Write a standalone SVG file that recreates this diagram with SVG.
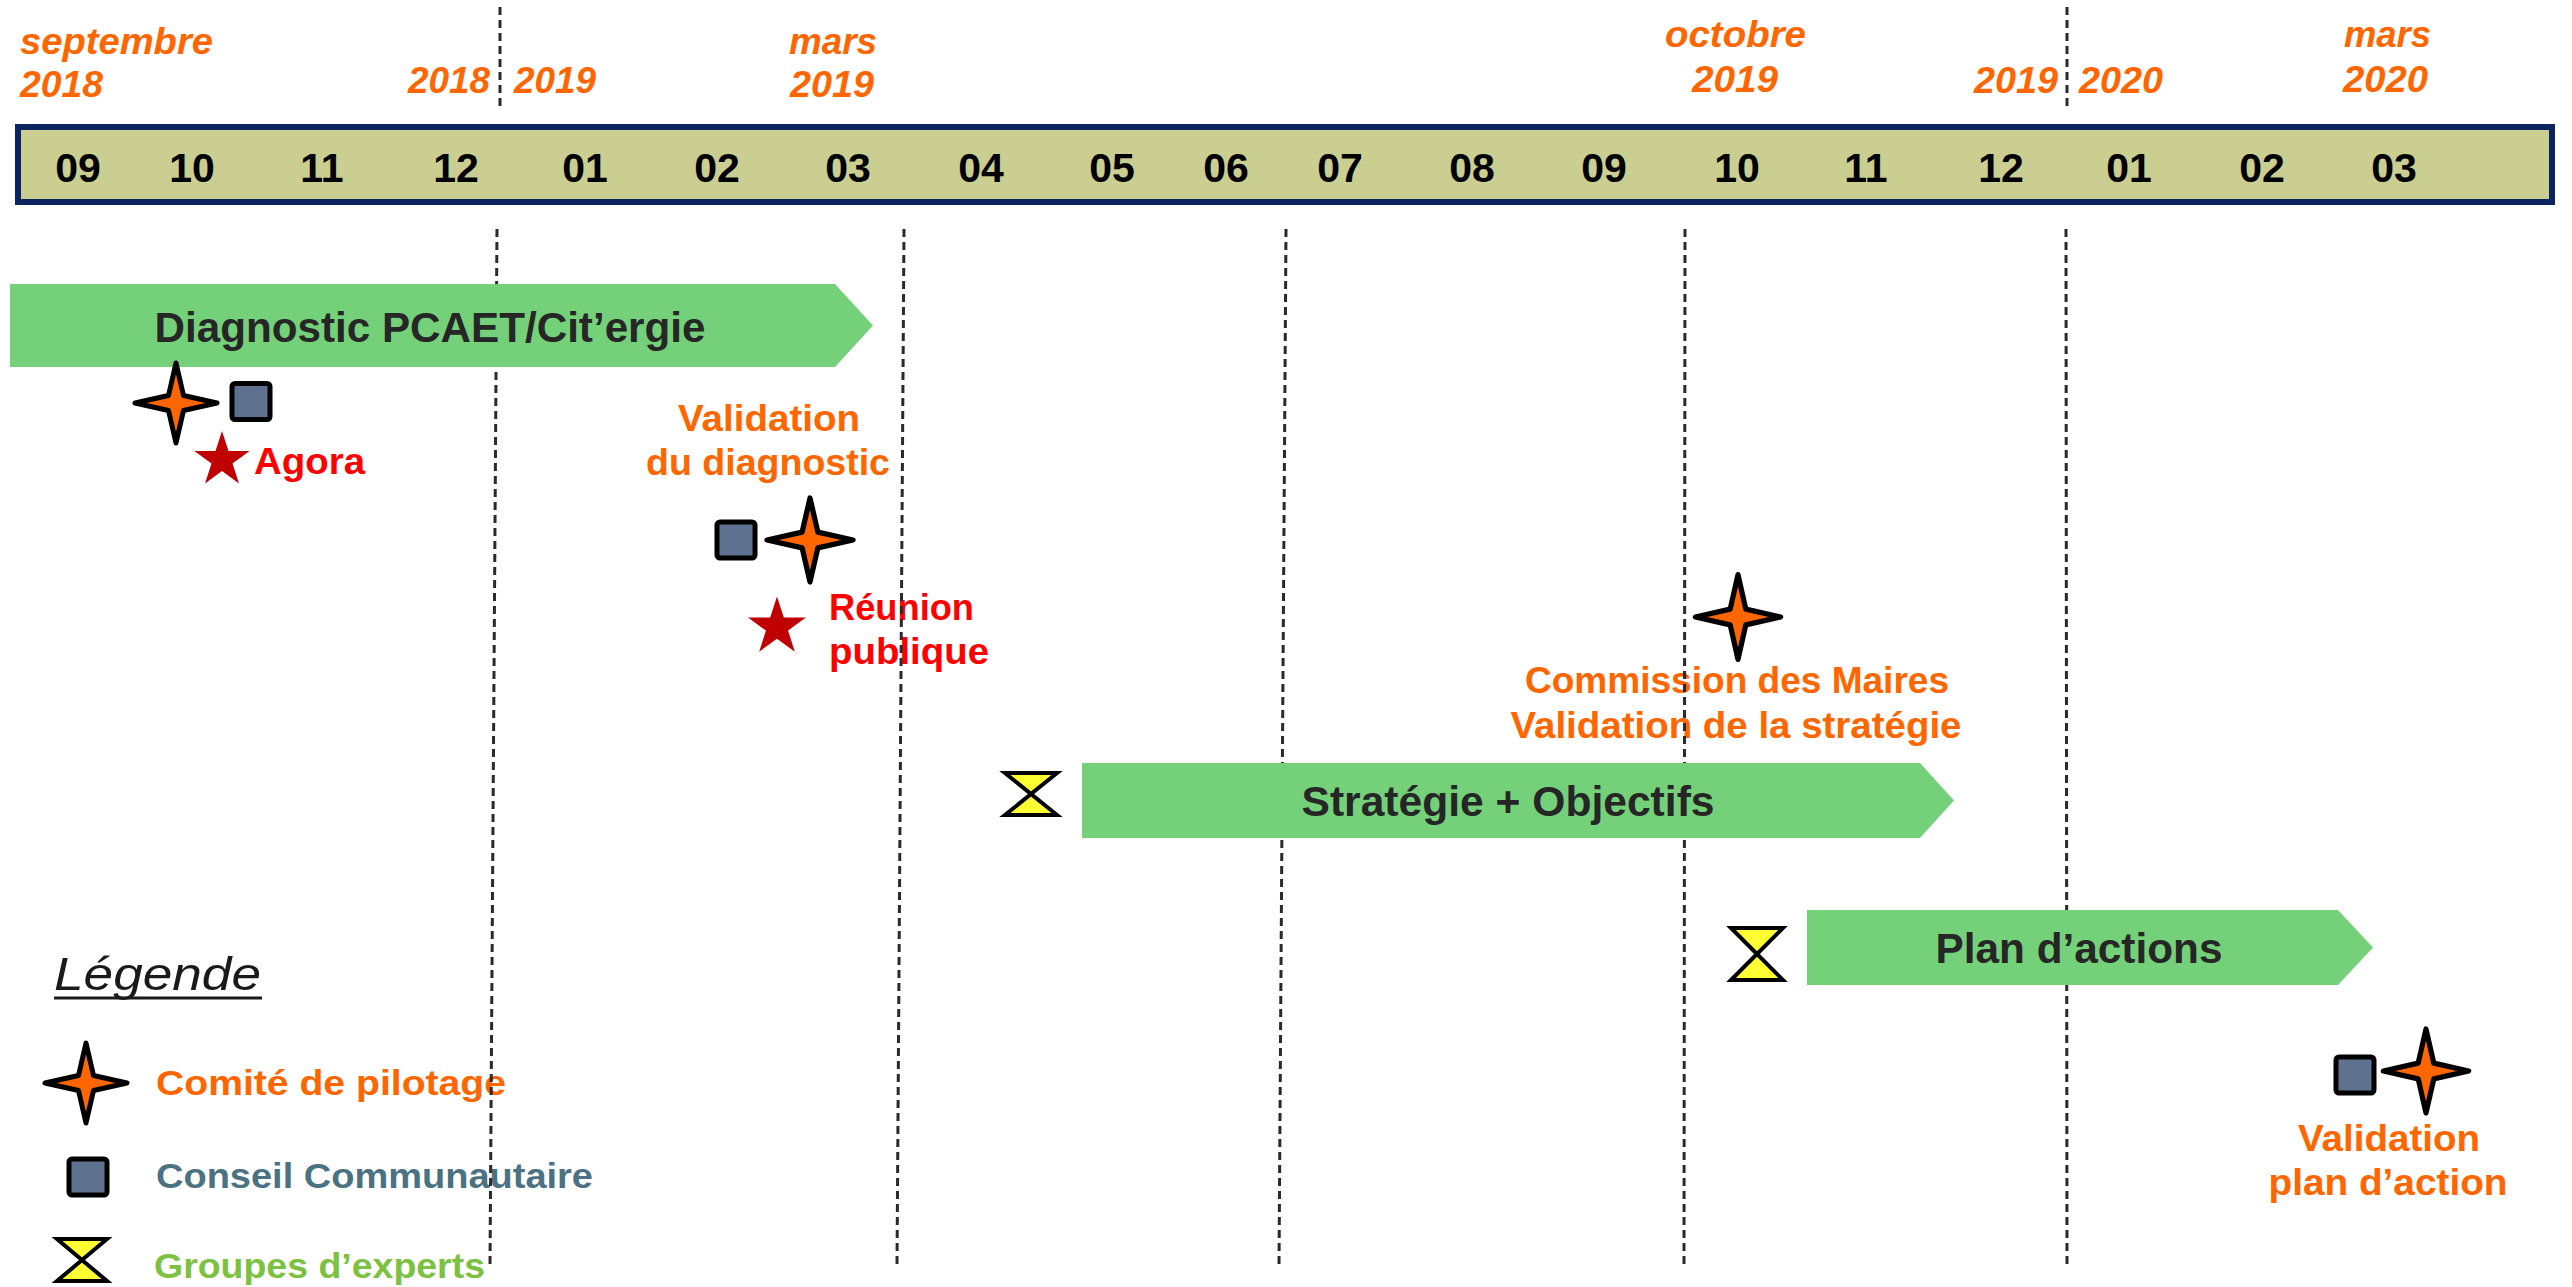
<svg xmlns="http://www.w3.org/2000/svg" xmlns:xlink="http://www.w3.org/1999/xlink" width="2572" height="1287" viewBox="0 0 2572 1287">
<style>
text{font-family:"Liberation Sans",Arial,sans-serif;font-weight:bold}
.yr{fill:#FF6600;font-style:italic;font-size:37px}
.mo{fill:#000;font-size:41px;text-anchor:middle}
.or{fill:#FF6600;font-size:37px;text-anchor:middle}
.rd{fill:#FF0000;font-size:36px}
.ar{fill:#262626;font-size:42px;text-anchor:middle}
.lg{font-size:35px}
.grid{stroke:#2a2a2a;stroke-width:3;stroke-dasharray:8 5;fill:none}
.arrow{fill:#74D17A}
.sq{fill:#5E7290;stroke:#000;stroke-width:5}
.hg{fill:#FFFF33;stroke:#000;stroke-width:4;stroke-linejoin:miter}
.st4{fill:#FF6600;stroke:#000;stroke-width:5;stroke-linejoin:round}
.st5{fill:#C00000}
</style>
<defs>
<path id="star4" d="M0,-40 L7.5,-7.5 L41,0 L7.5,7.5 L0,40 L-7.5,7.5 L-41,0 L-7.5,-7.5 Z"/>
<path id="star5" d="M0,-29 L6.5,-9 L27.6,-9 L10.5,3.4 L17,23.5 L0,11.1 L-17,23.5 L-10.5,3.4 L-27.6,-9 L-6.5,-9 Z"/>
<rect id="sqr" x="-19" y="-18" width="38" height="36" rx="3"/>
</defs>
<rect width="2572" height="1287" fill="#fff"/>

<g id="timeline">
<rect x="18" y="127" width="2534" height="75" fill="#CBCE91" stroke="#0B2461" stroke-width="6"/>
<text class="mo" x="78" y="182">09</text>
<text class="mo" x="192" y="182">10</text>
<text class="mo" x="322" y="182">11</text>
<text class="mo" x="456" y="182">12</text>
<text class="mo" x="585" y="182">01</text>
<text class="mo" x="717" y="182">02</text>
<text class="mo" x="848" y="182">03</text>
<text class="mo" x="981" y="182">04</text>
<text class="mo" x="1112" y="182">05</text>
<text class="mo" x="1226" y="182">06</text>
<text class="mo" x="1340" y="182">07</text>
<text class="mo" x="1472" y="182">08</text>
<text class="mo" x="1604" y="182">09</text>
<text class="mo" x="1737" y="182">10</text>
<text class="mo" x="1866" y="182">11</text>
<text class="mo" x="2001" y="182">12</text>
<text class="mo" x="2129" y="182">01</text>
<text class="mo" x="2262" y="182">02</text>
<text class="mo" x="2394" y="182">03</text>
</g>

<g id="year-labels">
<text class="yr" x="20" y="54" textLength="193" lengthAdjust="spacingAndGlyphs">septembre</text>
<text class="yr" x="20" y="97" textLength="83" lengthAdjust="spacingAndGlyphs">2018</text>
<text class="yr" x="408" y="93" textLength="82" lengthAdjust="spacingAndGlyphs">2018</text>
<text class="yr" x="514" y="93" textLength="82" lengthAdjust="spacingAndGlyphs">2019</text>
<text class="yr" x="789" y="54" textLength="88" lengthAdjust="spacingAndGlyphs">mars</text>
<text class="yr" x="790" y="97" textLength="84" lengthAdjust="spacingAndGlyphs">2019</text>
<text class="yr" x="1665" y="47" textLength="141" lengthAdjust="spacingAndGlyphs">octobre</text>
<text class="yr" x="1692" y="92" textLength="86" lengthAdjust="spacingAndGlyphs">2019</text>
<text class="yr" x="1974" y="93" textLength="84" lengthAdjust="spacingAndGlyphs">2019</text>
<text class="yr" x="2079" y="93" textLength="84" lengthAdjust="spacingAndGlyphs">2020</text>
<text class="yr" x="2344" y="47" textLength="87" lengthAdjust="spacingAndGlyphs">mars</text>
<text class="yr" x="2343" y="92" textLength="85" lengthAdjust="spacingAndGlyphs">2020</text>
</g>

<g id="event-labels">
<text class="rd" x="254" y="474" textLength="111" lengthAdjust="spacingAndGlyphs">Agora</text>
<text class="or" x="769" y="431" textLength="182" lengthAdjust="spacingAndGlyphs">Validation</text>
<text class="or" x="768" y="475" textLength="244" lengthAdjust="spacingAndGlyphs">du diagnostic</text>
<text class="rd" x="829" y="620" textLength="145" lengthAdjust="spacingAndGlyphs">Réunion</text>
<text class="rd" x="829" y="664" textLength="160" lengthAdjust="spacingAndGlyphs">publique</text>
<text class="or" x="1737" y="693" textLength="424" lengthAdjust="spacingAndGlyphs">Commission des Maires</text>
<text class="or" x="1736" y="738" textLength="451" lengthAdjust="spacingAndGlyphs">Validation de la stratégie</text>
<text class="or" x="2389" y="1151" textLength="182" lengthAdjust="spacingAndGlyphs">Validation</text>
<text class="or" x="2388" y="1195" textLength="239" lengthAdjust="spacingAndGlyphs">plan d’action</text>
</g>

<g id="legend">
<text x="54" y="990" fill="#1a1a1a" font-size="47" font-style="italic" style="font-weight:normal" textLength="207" lengthAdjust="spacingAndGlyphs">Légende</text>
<line x1="54" y1="998" x2="262" y2="998" stroke="#1a1a1a" stroke-width="3"/>
<use xlink:href="#star4" class="st4" transform="translate(86,1083)"/>
<text class="lg" x="156" y="1095" fill="#FF6600" textLength="350" lengthAdjust="spacingAndGlyphs">Comité de pilotage</text>
<use xlink:href="#sqr" class="sq" transform="translate(88,1177)"/>
<text class="lg" x="156" y="1188" fill="#4B7283" textLength="437" lengthAdjust="spacingAndGlyphs">Conseil Communautaire</text>
<polygon class="hg" points="57,1239 107,1239 82,1260 107,1281 57,1281 82,1260"/>
<text class="lg" x="154" y="1278" fill="#7DC142" textLength="331" lengthAdjust="spacingAndGlyphs">Groupes d’experts</text>
</g>

<g id="gridlines">
<line class="grid" x1="500" y1="7" x2="500" y2="108"/>
<line class="grid" x1="2067" y1="7" x2="2067" y2="108"/>
<line class="grid" x1="497" y1="229" x2="490" y2="1266"/>
<line class="grid" x1="904" y1="229" x2="897" y2="1266"/>
<line class="grid" x1="1286" y1="229" x2="1279" y2="1266"/>
<line class="grid" x1="1685" y1="229" x2="1684" y2="1266"/>
<line class="grid" x1="2066" y1="229" x2="2067" y2="1266"/>
</g>

<g id="phase-diagnostic">
<polygon class="arrow" points="10,284 835,284 873,325.5 835,367 10,367"/>
<text class="ar" x="430" y="342" textLength="551" lengthAdjust="spacingAndGlyphs">Diagnostic PCAET/Cit’ergie</text>
</g>
<g id="phase-strategie">
<polygon class="arrow" points="1082,763 1920,763 1954,800.5 1920,838 1082,838"/>
<text class="ar" x="1508" y="816" font-size="40" textLength="413" lengthAdjust="spacingAndGlyphs">Stratégie + Objectifs</text>
</g>
<g id="phase-plan">
<polygon class="arrow" points="1807,910 2338,910 2373,947.5 2338,985 1807,985"/>
<text class="ar" x="2079" y="963" textLength="287" lengthAdjust="spacingAndGlyphs">Plan d’actions</text>
</g>

<g id="event-sept2018">
<use xlink:href="#star4" class="st4" transform="translate(176,403)"/>
<use xlink:href="#sqr" class="sq" transform="translate(251,401.5)"/>
<use xlink:href="#star5" class="st5" transform="translate(222,460)"/>
</g>
<g id="event-mars2019">
<use xlink:href="#sqr" class="sq" transform="translate(736,540)"/>
<use xlink:href="#star4" class="st4" transform="translate(810,540) scale(1.05,1.05)"/>
<use xlink:href="#star5" class="st5" transform="translate(777,627) scale(1.05)"/>
</g>
<g id="event-oct2019">
<use xlink:href="#star4" class="st4" transform="translate(1738,617) scale(1.04,1.06)"/>
</g>
<g id="experts-strategie">
<polygon class="hg" points="1005,773 1057,773 1031,794 1057,815 1005,815 1031,794"/>
</g>
<g id="experts-plan">
<polygon class="hg" points="1731,928 1783,928 1757,954 1783,980 1731,980 1757,954"/>
</g>
<g id="event-mars2020">
<use xlink:href="#sqr" class="sq" transform="translate(2355,1075)"/>
<use xlink:href="#star4" class="st4" transform="translate(2426,1071) scale(1.04,1.05)"/>
</g>
</svg>
